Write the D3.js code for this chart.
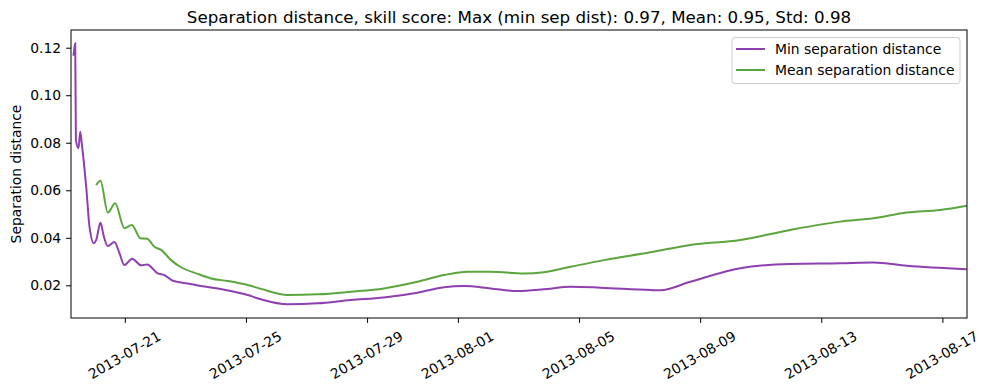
<!DOCTYPE html>
<html>
<head>
<meta charset="utf-8">
<script src="https://cdn.jsdelivr.net/npm/d3@7"></script>
<style>
  body { margin: 0; background: #fff; }
  svg { font-family: "DejaVu Sans", sans-serif; }
</style>
</head>
<body>
<svg id="chart" width="989" height="390"></svg>
<script>
// data
var minDates = ["2013-07-19T07:20", "2013-07-19T08:40", "2013-07-19T09:13", "2013-07-19T11:17", "2013-07-19T12:38",
  "2013-07-19T14:00", "2013-07-19T17:22", "2013-07-19T19:59", "2013-07-19T23:28", "2013-07-20T01:16",
  "2013-07-20T04:41", "2013-07-20T07:22", "2013-07-20T10:32", "2013-07-20T15:46", "2013-07-20T19:44",
  "2013-07-20T23:41", "2013-07-21T05:47", "2013-07-21T12:55", "2013-07-21T17:38", "2013-07-22T02:07",
  "2013-07-22T07:21", "2013-07-22T14:00", "2013-07-23T01:52", "2013-07-23T12:23", "2013-07-24T01:36",
  "2013-07-24T14:45", "2013-07-25T01:22", "2013-07-25T11:53", "2013-07-26T09:01", "2013-07-27T08:46",
  "2013-07-28T11:08", "2013-07-29T13:15", "2013-07-30T15:56", "2013-07-31T13:00", "2013-08-01T04:49",
  "2013-08-02T01:57", "2013-08-02T23:05", "2013-08-03T20:08", "2013-08-04T17:16", "2013-08-05T17:01",
  "2013-08-07T08:36", "2013-08-07T16:31", "2013-08-08T16:15", "2013-08-10T07:49", "2013-08-11T23:24",
  "2013-08-13T14:58", "2013-08-14T17:21", "2013-08-15T19:47", "2013-08-17T19:16"];
var minValues = [0.1166, 0.1219, 0.0811, 0.0777, 0.0846,
  0.0790, 0.0615, 0.0447, 0.0377, 0.0390,
  0.0463, 0.0405, 0.0365, 0.0382, 0.0335,
  0.0285, 0.0312, 0.0284, 0.0288, 0.0250,
  0.0243, 0.0219, 0.0208, 0.0197, 0.0187,
  0.0173, 0.0159, 0.0141, 0.0120, 0.0124,
  0.0138, 0.0149, 0.0169, 0.0192, 0.0197,
  0.0187, 0.0176, 0.0183, 0.0194, 0.0190,
  0.0180, 0.0179, 0.0215, 0.0272, 0.0290,
  0.0293, 0.0296, 0.0282, 0.0268];

var meanDates = ["2013-07-20T01:16", "2013-07-20T04:41", "2013-07-20T10:32", "2013-07-20T16:19", "2013-07-20T23:41",
  "2013-07-21T05:32", "2013-07-21T12:22", "2013-07-21T17:38", "2013-07-21T23:25", "2013-07-22T04:44",
  "2013-07-22T12:39", "2013-07-22T20:34", "2013-07-23T09:47", "2013-07-23T20:18", "2013-07-24T09:31",
  "2013-07-25T01:22", "2013-07-25T11:53", "2013-07-26T09:01", "2013-07-27T08:46", "2013-07-28T11:08",
  "2013-07-29T13:15", "2013-07-30T15:56", "2013-07-31T13:00", "2013-08-01T07:30", "2013-08-02T01:57",
  "2013-08-03T04:18", "2013-08-03T20:08", "2013-08-04T17:16", "2013-08-05T19:38", "2013-08-07T08:36",
  "2013-08-08T16:15", "2013-08-10T07:49", "2013-08-11T23:24", "2013-08-13T14:58", "2013-08-14T17:21",
  "2013-08-15T19:47", "2013-08-16T22:08", "2013-08-17T19:16"];
var meanValues = [0.0622, 0.0640, 0.0506, 0.0545, 0.0440,
  0.0454, 0.0398, 0.0396, 0.0362, 0.0349,
  0.0306, 0.0276, 0.0248, 0.0229, 0.0218,
  0.0201, 0.0185, 0.0159, 0.0162, 0.0173,
  0.0187, 0.0215, 0.0243, 0.0257, 0.0257,
  0.0250, 0.0255, 0.0278, 0.0306, 0.0339,
  0.0370, 0.0391, 0.0433, 0.0468, 0.0482,
  0.0506, 0.0517, 0.0535];

var xTicks = ["2013-07-21", "2013-07-25", "2013-07-29", "2013-08-01", "2013-08-05", "2013-08-09", "2013-08-13", "2013-08-17"];
var yTicks = [0.02, 0.04, 0.06, 0.08, 0.10, 0.12];

var parse = d3.timeParse("%Y-%m-%dT%H:%M");
var parseDay = d3.timeParse("%Y-%m-%d");

var fontSize = 13.9;
var margin = {top: 30, right: 22, bottom: 72, left: 71};
var width = 989 - margin.left - margin.right,
    height = 390 - margin.top - margin.bottom;

var svg = d3.select("#chart");
var g = svg.append("g").attr("transform", "translate(" + margin.left + "," + margin.top + ")");

var x = d3.scaleTime()
  .domain([parse("2013-07-19T05:20"), parse("2013-08-17T19:30")])
  .range([0, width]);
var y = d3.scaleLinear()
  .domain([0.00624, 0.12745])
  .range([height, 0]);

var series = [
  {name: "Min separation distance", color: "#8e3fb0", dates: minDates, values: minValues},
  {name: "Mean separation distance", color: "#5ba63c", dates: meanDates, values: meanValues}
];

var line = d3.line()
  .x(function (d) { return x(d[0]); })
  .y(function (d) { return y(d[1]); })
  .curve(d3.curveMonotoneX);

g.append("clipPath").attr("id", "clip")
  .append("rect").attr("width", width).attr("height", height);

series.forEach(function (s) {
  var pts = s.dates.map(function (d, i) { return [parse(d), s.values[i]]; });
  g.append("path")
    .attr("clip-path", "url(#clip)")
    .attr("d", line(pts))
    .attr("fill", "none")
    .attr("stroke", s.color)
    .attr("stroke-width", 2);
});

// axes
var xAxis = g.append("g")
  .attr("transform", "translate(0," + height + ")")
  .call(d3.axisBottom(x)
    .tickValues(xTicks.map(function (d) { return parseDay(d); }))
    .tickFormat(d3.timeFormat("%Y-%m-%d"))
    .tickSize(4.9));
xAxis.select(".domain").remove();
xAxis.attr("font-family", "DejaVu Sans").attr("font-size", fontSize);
xAxis.selectAll("text")
  .attr("fill", "#000")
  .attr("text-anchor", "middle")
  .attr("dy", null)
  .attr("y", null)
  .attr("dominant-baseline", "central")
  .attr("transform", "translate(-1,37) rotate(-30)");

var yAxis = g.append("g")
  .call(d3.axisLeft(y).tickValues(yTicks).tickFormat(d3.format(".2f")).tickSize(4.9).tickPadding(4.9));
yAxis.select(".domain").remove();
yAxis.attr("font-family", "DejaVu Sans").attr("font-size", fontSize);
yAxis.selectAll("text").attr("fill", "#000");

g.selectAll(".tick line").attr("stroke", "#000").attr("stroke-width", 1);

g.append("rect")
  .attr("width", width).attr("height", height)
  .attr("fill", "none").attr("stroke", "#000").attr("stroke-width", 1);

svg.append("text")
  .attr("x", margin.left + width / 2).attr("y", 22.5)
  .attr("text-anchor", "middle")
  .attr("font-size", 16.7)
  .text("Separation distance, skill score: Max (min sep dist): 0.97, Mean: 0.95, Std: 0.98");

svg.append("text")
  .attr("transform", "translate(21," + (margin.top + height / 2) + ") rotate(-90)")
  .attr("text-anchor", "middle")
  .attr("font-size", fontSize)
  .text("Separation distance");

// legend
var legend = svg.append("g").attr("transform", "translate(732,37.5)");
legend.append("rect")
  .attr("width", 228).attr("height", 46).attr("rx", 3)
  .attr("fill", "#fff").attr("fill-opacity", 0.8)
  .attr("stroke", "#ccc").attr("stroke-width", 1);
series.forEach(function (s, i) {
  var ly = 11.5 + i * 21;
  legend.append("line")
    .attr("x1", 4).attr("x2", 33).attr("y1", ly).attr("y2", ly)
    .attr("stroke", s.color).attr("stroke-width", 2);
  legend.append("text")
    .attr("x", 43).attr("y", ly).attr("dy", "0.36em")
    .attr("font-size", fontSize)
    .text(s.name);
});
</script>
</body>
</html>
